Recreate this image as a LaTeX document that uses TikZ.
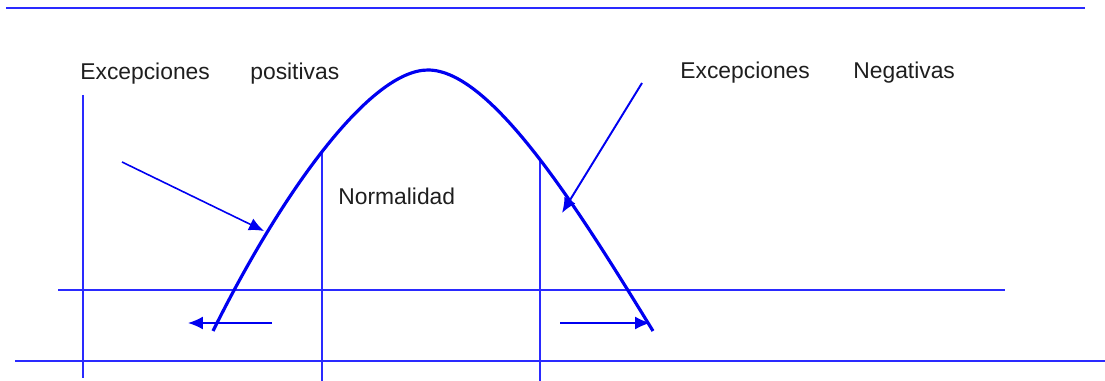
\documentclass[tikz,border=0pt]{standalone}
\usepackage{fontspec}
\setmainfont{Liberation Sans}
\usepackage{xcolor}
\usepackage{tikz}
\usetikzlibrary{arrows.meta}
\definecolor{curveblue}{HTML}{0000F0}
\definecolor{lineblue}{HTML}{2A2AFF}
\definecolor{labelgray}{HTML}{1E1E1E}

\begin{document}
\begin{tikzpicture}[
        x=0.02cm, y=-0.02cm,
        every node/.style={font=\fontsize{13}{15}\selectfont, text=labelgray, inner sep=0pt, anchor=base west},
        rule/.style={draw=lineblue, line width=0.8pt},
        bell/.style={draw=curveblue, line width=1.8pt},
        arrow/.style={-{Latex[length=3mm, width=2.6mm]}, draw=curveblue, line width=0.9pt}
    ]
        \useasboundingbox (0,0) rectangle (1105,381);
        % frame lines
        \draw[rule] (6,8) -- (1085,8);
        \draw[rule] (58,290) -- (1005,290);
        \draw[rule] (15,361) -- (1105,361);
        \draw[rule] (83,95) -- (83,378);
        \draw[rule] (322,150) -- (322,381);
        \draw[rule] (540,160) -- (540,381);
        % bell curve
        \coordinate (bellL) at (213,331);
        \coordinate (bellTop) at (428,70);
        \coordinate (bellR) at (653,331);
        \draw[bell] (bellL) .. controls (282,192) and (370,70) .. (bellTop)
                    .. controls (492,70) and (580,212) .. (bellR);
        % labels
        \node (posA) at (80,80) {Excepciones};
        \node (posB) at (250,80) {positivas};
        \node (negA) at (680,79) {Excepciones};
        \node (negB) at (853,79) {Negativas};
        \node (normal) at (338,205) {Normalidad};
        % arrows
        \coordinate (posTail) at (122,162);
        \coordinate (posTip) at (264,231);
        \coordinate (negTail) at (642,83);
        \coordinate (negTip) at (562,213);
        \coordinate (leftTail) at (272,323);
        \coordinate (leftTip) at (188,323);
        \coordinate (rightTail) at (560,323);
        \coordinate (rightTip) at (650,323);
        \draw[arrow] (posTail) -- (posTip);
        \draw[arrow, line width=1.1pt] (negTail) -- (negTip);
        \draw[arrow] (leftTail) -- (leftTip);
        \draw[arrow] (rightTail) -- (rightTip);
    \end{tikzpicture}
\end{document}
